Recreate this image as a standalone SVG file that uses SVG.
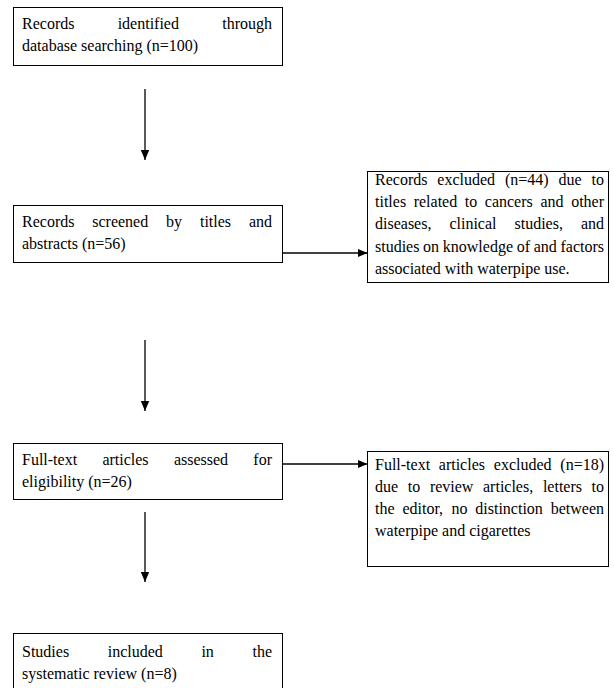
<svg xmlns="http://www.w3.org/2000/svg" width="614" height="688" viewBox="0 0 614 688">
<style>
.box{fill:#fff;stroke:#000;stroke-width:1}
.t{font-family:"Liberation Serif","Times New Roman",serif;font-size:16px;fill:#000}
.e{text-anchor:end}
.c{stroke:#000;stroke-width:1.3;fill:none}
</style>
<defs>
<marker id="ah" markerUnits="userSpaceOnUse" markerWidth="10" markerHeight="10" refX="10" refY="5" orient="auto">
<path d="M0,0.8 L10,5 L0,9.2 Z" fill="#000"/>
</marker>
</defs>
<rect width="614" height="688" fill="#fff"/>
<g id="connectors">
<line class="c" x1="145" y1="89" x2="145" y2="160" marker-end="url(#ah)"/>
<line class="c" x1="145" y1="340" x2="145" y2="411" marker-end="url(#ah)"/>
<line class="c" x1="145" y1="512" x2="145" y2="582" marker-end="url(#ah)"/>
<line class="c" x1="282.5" y1="253" x2="367.5" y2="253" marker-end="url(#ah)"/>
<line class="c" x1="282.5" y1="464" x2="367.5" y2="464" marker-end="url(#ah)"/>
</g>
<g id="identified">
<rect class="box" x="13.5" y="7.5" width="269" height="58"/>
<text class="t" y="29"><tspan x="22">Records</tspan><tspan x="117.65">identified</tspan><tspan x="272" class="e">through</tspan></text>
<text class="t" x="22" y="51">database searching (n=100)</text>
</g>
<g id="screened">
<rect class="box" x="13.5" y="205.5" width="269" height="57"/>
<text class="t" y="227"><tspan x="22">Records</tspan><tspan x="92.25">screened</tspan><tspan x="166.1">by</tspan><tspan x="199.95">titles</tspan><tspan x="272" class="e">and</tspan></text>
<text class="t" x="22" y="249">abstracts (n=56)</text>
</g>
<g id="excluded1">
<rect class="box" x="367.5" y="171.5" width="241" height="111"/>
<text class="t" y="185"><tspan x="375">Records</tspan><tspan x="437.3">excluded</tspan><tspan x="505">(n=44)</tspan><tspan x="558.6">due</tspan><tspan x="604" class="e">to</tspan></text>
<text class="t" y="207"><tspan x="375">titles</tspan><tspan x="413.7">related</tspan><tspan x="464.8">to</tspan><tspan x="484.8">cancers</tspan><tspan x="540.4">and</tspan><tspan x="604" class="e">other</tspan></text>
<text class="t" y="229"><tspan x="375">diseases,</tspan><tspan x="449.4">clinical</tspan><tspan x="514.5">studies,</tspan><tspan x="604" class="e">and</tspan></text>
<text class="t" y="251.5"><tspan x="375">studies</tspan><tspan x="423.1">on</tspan><tspan x="442.8">knowledge</tspan><tspan x="516.7">of</tspan><tspan x="533.7">and</tspan><tspan x="604" class="e">factors</tspan></text>
<text class="t" x="375" y="273.5">associated with waterpipe use.</text>
</g>
<g id="assessed">
<rect class="box" x="13.5" y="443.5" width="269" height="56"/>
<text class="t" y="465"><tspan x="22">Full-text</tspan><tspan x="102.4">articles</tspan><tspan x="173.9">assessed</tspan><tspan x="272" class="e">for</tspan></text>
<text class="t" x="22" y="487">eligibility (n=26)</text>
</g>
<g id="excluded2">
<rect class="box" x="367.5" y="451.5" width="241" height="115"/>
<text class="t" y="470"><tspan x="375">Full-text</tspan><tspan x="438.8">articles</tspan><tspan x="493.8">excluded</tspan><tspan x="604" class="e">(n=18)</tspan></text>
<text class="t" y="492"><tspan x="375">due</tspan><tspan x="407.8">to</tspan><tspan x="429.9">review</tspan><tspan x="483">articles,</tspan><tspan x="542.9">letters</tspan><tspan x="604" class="e">to</tspan></text>
<text class="t" y="514"><tspan x="375">the</tspan><tspan x="402.4">editor,</tspan><tspan x="451.5">no</tspan><tspan x="475.3">distinction</tspan><tspan x="604" class="e">between</tspan></text>
<text class="t" x="375" y="536">waterpipe and cigarettes</text>
</g>
<g id="included">
<rect class="box" x="13.5" y="633.5" width="269" height="60"/>
<text class="t" y="657"><tspan x="22">Studies</tspan><tspan x="107.7">included</tspan><tspan x="201.4">in</tspan><tspan x="272" class="e">the</tspan></text>
<text class="t" x="22" y="679">systematic review (n=8)</text>
</g>
</svg>
